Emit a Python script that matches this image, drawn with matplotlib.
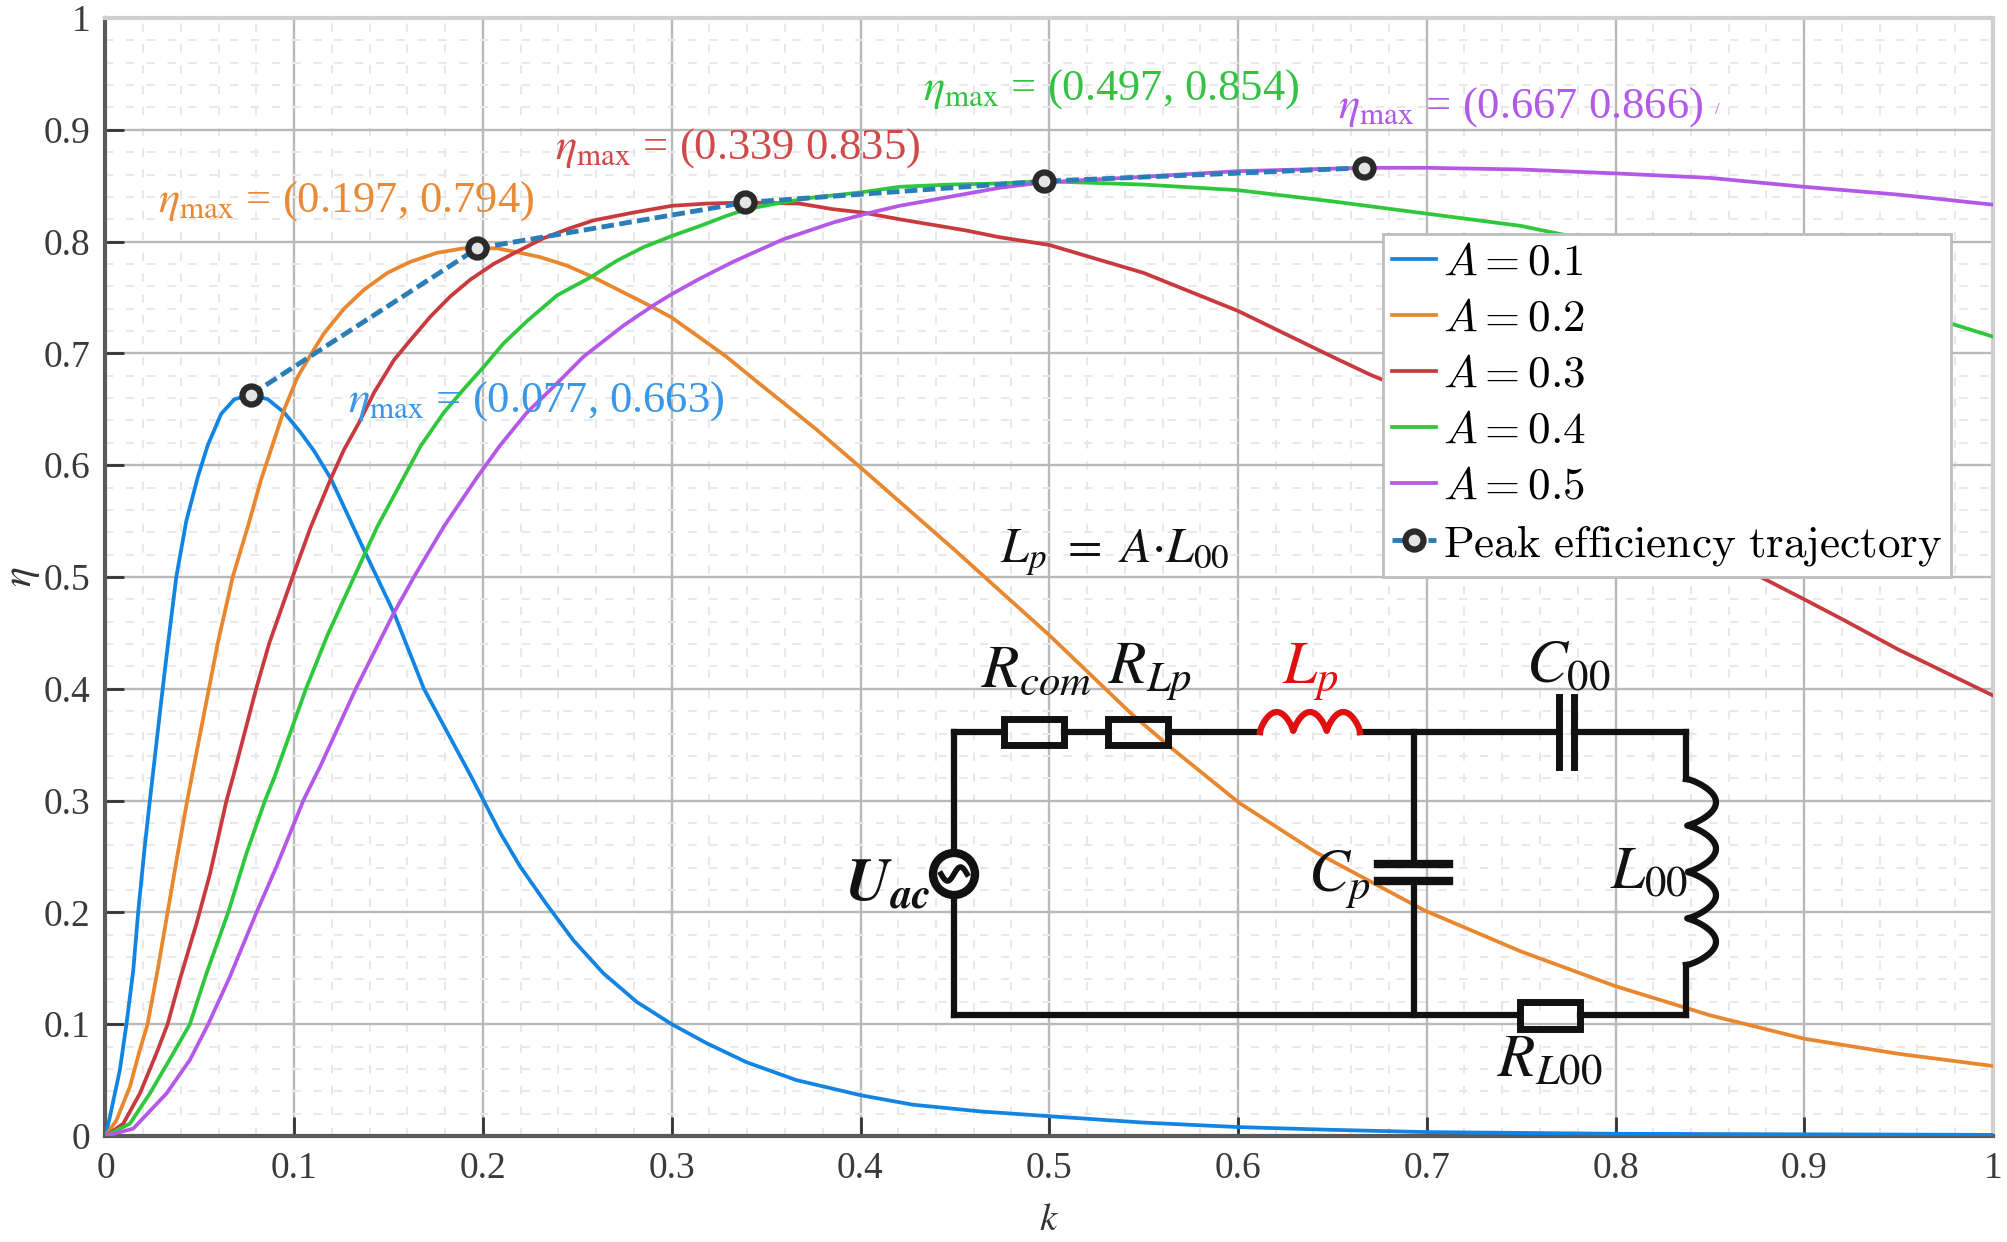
import numpy as np
import matplotlib
matplotlib.use("Agg")
import matplotlib.pyplot as plt
from matplotlib.font_manager import FontProperties
from matplotlib.patches import Circle, Rectangle

plt.rcParams['font.family'] = ['Liberation Serif', 'DejaVu Serif']
plt.rcParams['mathtext.fontset'] = 'stix'

# values
k_01 = [0, .0023, .0076, .0111, .0147, .0173, .0208, .0235, .0252, .0296, .0331, .0375, .0428, .049, .0542, .0613, .0683, .0771, .086, .0947, .1035, .1106, .1194, .137, .1528, .1687, .1942, .2092, .2197, .2338, .2479, .2638, .2814, .3, .3185, .3396, .366, .4, .4277, .4634, .5, .55, .6, .65, .7, .8, .9, 1]
eta_01 = [0, .017, .059, .10, .148, .20, .259, .30, .325, .39, .44, .50, .55, .59, .618, .646, .659, .663, .659, .647, .629, .6125, .588, .524, .468, .40, .32, .271, .241, .207, .175, .1455, .12, .10, .083, .066, .05, .0365, .028, .022, .0177, .012, .008, .0055, .0035, .002, .0015, .001]

k_02 = [0, .0058, .0129, .0182, .0223, .0279, .0329, .038, .0433, .0465, .0542, .0595, .0674, .0754, .0824, .0877, .0947, .1018, .1088, .1158, .1264, .137, .1493, .1616, .1757, .1898, .197, .2074, .2197, .2305, .2445, .2586, .2762, .2903, .3, .315, .329, .3449, .359, .3766, .4, .45, .4756, .5, .5433, .564, .6006, .641, .6985, .75, .8, .85, .9, .95, 1]
eta_02 = [0, .014, .044, .077, .10, .151, .20, .25, .30, .328, .395, .441, .50, .545, .587, .614, .65, .679, .699, .718, .74, .757, .772, .782, .79, .794, .794, .794, .79, .786, .7785, .768, .753, .741, .732, .714, .697, .675, .656, .632, .598, .524, .485, .448, .378, .348, .298, .254, .202, .165, .134, .108, .087, .0735, .0626]

k_03 = [0, .0094, .0182, .027, .0329, .0394, .0482, .0553, .0641, .0674, .0798, .0868, .0991, .1088, .1194, .1264, .1343, .1423, .1528, .1616, .1722, .1827, .1933, .2056, .218, .232, .2461, .2586, .2798, .3, .3185, .3387, .3678, .3854, .4012, .4206, .4382, .4558, .4734, .5, .55, .6, .65, .67, .7, .75, .8, .85, .87, .9, .9215, .95, 1]
eta_03 = [0, .011, .038, .074, .10, .14, .19, .234, .30, .32, .40, .441, .50, .545, .588, .614, .638, .665, .694, .712, .733, .751, .766, .78, .791, .803, .812, .819, .826, .832, .834, .835, .834, .829, .826, .82, .815, .81, .804, .797, .772, .738, .697, .681, .66, .62, .575, .525, .506, .48, .461, .435, .394]

k_04 = [0, .0129, .0235, .0359, .0447, .0535, .065, .0747, .0845, .0894, .1062, .1176, .1317, .144, .158, .1669, .1792, .1898, .2004, .2109, .2234, .2393, .2569, .271, .285, .3, .315, .329, .3396, .3555, .373, .4, .4206, .447, .4734, .497, .55, .6, .65, .7, .75, .77, .85, .9, .95, .979, 1]
eta_04 = [0, .011, .038, .074, .10, .1455, .20, .253, .30, .3205, .40, .448, .50, .545, .589, .617, .647, .668, .688, .709, .729, .752, .768, .783, .795, .805, .814, .823, .829, .834, .839, .844, .849, .851, .852, .854, .851, .846, .836, .825, .814, .807, .78, .757, .737, .726, .715]

k_05 = [0, .0147, .0323, .0447, .0544, .0659, .08, .0906, .1048, .1106, .1136, .1326, .1528, .1634, .1792, .1968, .2092, .2232, .2391, .2532, .2745, .2903, .3, .315, .3326, .359, .3854, .403, .4206, .447, .4734, .497, .55, .6, .667, .7, .75, .8, .85, .9, .95, 1]
eta_05 = [0, .0066, .038, .068, .10, .1425, .20, .241, .30, .32, .33, .40, .468, .50, .545, .589, .618, .647, .673, .697, .725, .743, .753, .767, .782, .802, .817, .825, .832, .84, .848, .853, .858, .863, .866, .866, .8645, .861, .857, .849, .842, .833]

peak_k = [.077, .197, .339, .497, .667]
peak_eta = [.663, .794, .835, .854, .866]

series = [(k_01, eta_01, 'A=0.1', '#1284e2'),
          (k_02, eta_02, 'A=0.2', '#e8872e'),
          (k_03, eta_03, 'A=0.3', '#c93a3f'),
          (k_04, eta_04, 'A=0.4', '#2fc83c'),
          (k_05, eta_05, 'A=0.5', '#b458e8')]

x_ticks = [0, .1, .2, .3, .4, .5, .6, .7, .8, .9, 1]
y_ticks = [0, .1, .2, .3, .4, .5, .6, .7, .8, .9, 1]
tick_labels = ['0', '0.1', '0.2', '0.3', '0.4', '0.5', '0.6', '0.7', '0.8', '0.9', '1']

W, H = 2008, 1242
fig = plt.figure(figsize=(W / 100, H / 100), dpi=100)
ax = fig.add_axes([105.5 / W, 1 - 1136 / H, 1887.5 / W, 1118 / H])

for k, eta, name, col in series:
    ax.plot(k, eta, color=col, lw=2.7, label='$' + name + '$', zorder=3, solid_joinstyle='round')
ax.plot(peak_k, peak_eta, color='#2b7db8', lw=3.5, ls=(0, (2.6, 1.1)), marker='o', ms=13,
        mfc='#e4e4e4', mec='#2a2a2a', mew=4.5,
        label=r'$\mathrm{Peak\ efficiency\ trajectory}$', zorder=4)

ax.set_xlim(0, 1)
ax.set_ylim(0, 1)
ax.set_xticks(x_ticks, tick_labels)
ax.set_yticks(y_ticks, tick_labels)
ax.set_xticks(np.arange(0, 1.001, .02), minor=True)
ax.set_yticks(np.arange(0, 1.001, .02), minor=True)
ax.grid(True, which='major', color='#b9b9b9', lw=1.7, zorder=1)
ax.grid(True, which='minor', color='#e8e8e8', lw=1.5, ls=(0, (4, 6)), zorder=0)
ax.tick_params(which='major', direction='in', length=14, width=2, color='#333333',
               labelsize=27, labelcolor='#3a3a3a', pad=11)
ax.tick_params(which='minor', length=0)
ax.set_axisbelow(True)
for side, col in [('left', '#5a5a5a'), ('bottom', '#5a5a5a'), ('top', '#d0d0d0'), ('right', '#d0d0d0')]:
    ax.spines[side].set_color(col)
    ax.spines[side].set_linewidth(3)

ax.set_xlabel('$k$', fontsize=28, color='#333333', va='center')
ax.xaxis.set_label_coords(.5, -.076)
ax.set_ylabel(r'$\eta$', fontsize=30, color='#333333', va='center')
ax.yaxis.set_label_coords(-.044, .5)

leg = ax.legend(loc='upper left', bbox_to_anchor=((1383 - 105.5) / 1887.5, (1136 - 234) / 1118),
                prop=FontProperties(size=32.5, math_fontfamily='cm'), frameon=True, fancybox=False,
                framealpha=1, edgecolor='#bdbdbd', handlelength=.98, handletextpad=.14,
                labelspacing=.34, borderpad=.2, borderaxespad=0)
leg.get_frame().set_linewidth(2)
leg.set_zorder(10)

# everything below is placed in image pixels
ov = fig.add_axes([0, 0, 1, 1], zorder=5)
ov.set_xlim(0, W)
ov.set_ylim(H, 0)
ov.axis('off')
ov.patch.set_alpha(0)

notes = [(348, 401, r'$\eta_{\mathrm{max}}$ = (0.077, 0.663)', '#3a97e8'),
         (158, 201, r'$\eta_{\mathrm{max}}$ = (0.197, 0.794)', '#e88a36'),
         (555, 148, r'$\eta_{\mathrm{max}}$ = (0.339 0.835)', '#d04a4a'),
         (923, 89, r'$\eta_{\mathrm{max}}$ = (0.497, 0.854)', '#33c244'),
         (1338, 107, r'$\eta_{\mathrm{max}}$ = (0.667 0.866)', '#b25ae8')]
for x, y, s, col in notes:
    ov.text(x, y, s, color=col, fontsize=32, va='center', ha='left')
ov.text(1717, 110, '/', color='#b25ae8', fontsize=12, ha='center', va='center')


def wire(xs, ys, lw=4.5, col='#111111'):
    ov.plot(xs, ys, color=col, lw=lw, solid_capstyle='projecting')


def coil_h(x0, x1, y, n, h, col, lw=4.5):
    t = np.linspace(0, 1, 200)
    ov.plot(x0 + (x1 - x0) * t, y - h * np.abs(np.sin(np.pi * n * t)) ** .7, color=col, lw=lw)


def coil_v(x, y0, y1, n, h, col, lw=4.5):
    t = np.linspace(0, 1, 300)
    ov.plot(x + h * np.abs(np.sin(np.pi * n * t)) ** .7, y0 + (y1 - y0) * t, color=col, lw=lw)


def resistor(x0, x1, y0, y1):
    ov.add_patch(Rectangle((x0, y0), x1 - x0, y1 - y0, fill=False, ec='#111111', lw=5))


# wires
wire([954, 954], [732, 853])
wire([954, 954], [895, 1015])
wire([954, 1004], [732, 732])
wire([1064, 1108], [732, 732])
wire([1168, 1260], [732, 732])
wire([1360, 1559], [732, 732])
wire([1574, 1686], [732, 732])
wire([1686, 1686], [732, 779])
wire([1686, 1686], [965, 1015])
wire([954, 1520], [1015, 1015])
wire([1580, 1686], [1015, 1015])
wire([1414, 1414], [732, 864])
wire([1414, 1414], [881, 1015])
wire([1559, 1559], [697, 767], lw=5)
wire([1574, 1574], [697, 767], lw=5)
wire([1378, 1449], [864, 864], lw=6)
wire([1378, 1449], [881, 881], lw=6)

resistor(1004, 1064, 719, 745)
resistor(1108, 1168, 719, 745)
resistor(1520, 1580, 1002, 1029)
coil_h(1260, 1360, 732, 3, 20, '#e01010')
coil_v(1686, 779, 965, 4, 30, '#111111')

ov.add_patch(Circle((954, 874), 21, fill=False, ec='#111111', lw=6))
t = np.linspace(-1, 1, 40)
ov.plot(954 + 13 * t, 874 - 7 * np.sin(np.pi * t), color='#111111', lw=4)

parts = [(1036, 672, r'$R_{com}$', '#111111'),
         (1150, 672, r'$R_{Lp}$', '#111111'),
         (1310, 672, r'$L_{p}$', '#e01010'),
         (1568, 668, r'$C_{00}$', '#111111'),
         (1649, 874, r'$L_{00}$', '#111111'),
         (1339, 880, r'$C_{p}$', '#111111'),
         (1550, 1062, r'$R_{L00}$', '#111111'),
         (888, 886, r'$\boldsymbol{U}_{\boldsymbol{ac}}$', '#111111')]
for x, y, s, col in parts:
    ov.text(x, y, s, fontsize=44, ha='center', va='center', color=col)
ov.text(1000, 553, r'$L_p\ =\ A{\cdot}L_{00}$', fontsize=36, ha='left', va='center', color='#111111')

fig.savefig('out.png', dpi=100)
